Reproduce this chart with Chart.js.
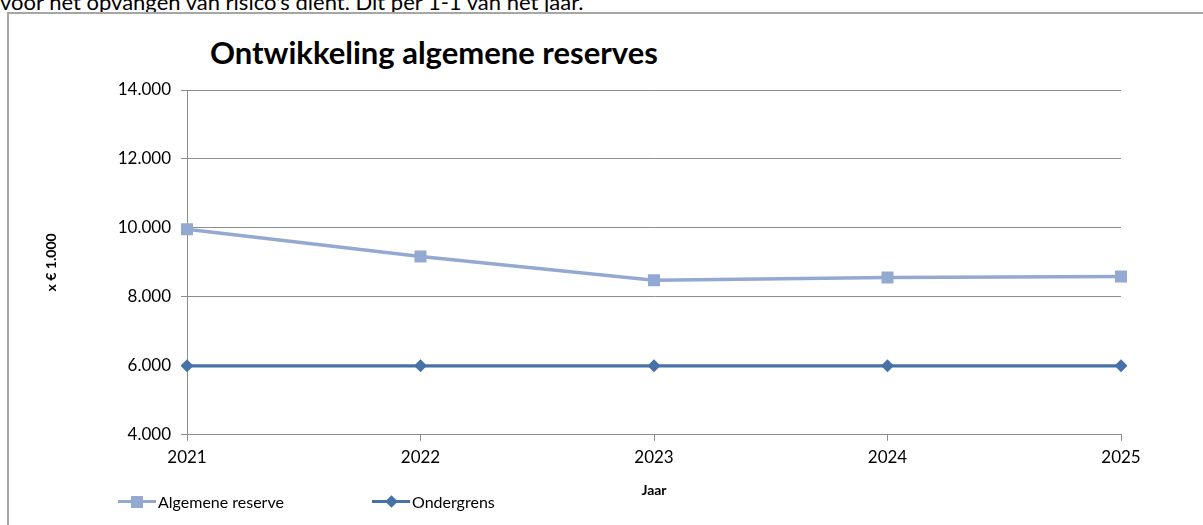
<!DOCTYPE html>
<html>
<head>
<meta charset="utf-8">
<script src="https://cdn.jsdelivr.net/npm/chart.js@4.4.1/dist/chart.umd.min.js"></script>
<style>
  html, body { margin: 0; padding: 0; background: #fff; overflow: hidden; }
  body { width: 1203px; height: 525px; position: relative; font-family: Lato, sans-serif; color: #000; }
  .doc-line { position: absolute; left: 0; top: -12px; font-size: 22px; white-space: nowrap; }
  .frame { position: absolute; left: 7px; top: 12px; width: 1230px; height: 560px; border: 2px solid #a6a6a6; }
  .title { position: absolute; left: 210px; top: 34px; font-size: 31px; font-weight: bold; line-height: 36px; white-space: nowrap; }
  .wrap { position: absolute; left: 9px; top: 15px; width: 1194px; height: 510px; }
  .legend { position: absolute; top: 492px; left: 0; height: 20px; font-size: 16px; }
  .legend-item { position: absolute; top: 0; height: 20px; line-height: 20px; white-space: nowrap; }
  .legend-item .swatch { position: absolute; left: 0; top: 8px; width: 38px; height: 3px; }
  .legend-item .marker { position: absolute; }
  .legend-item .label { position: absolute; left: 40px; top: 0; }
</style>
</head>
<body>
<div class="doc-line">voor het opvangen van risico's dient. Dit per 1-1 van het jaar.</div>
<div class="frame"></div>
<div class="title">Ontwikkeling algemene reserves</div>
<div class="wrap"><canvas id="reserves"></canvas></div>
<div class="legend" id="legend"></div>

<script>
    'use strict';

    var years = ['2021', '2022', '2023', '2024', '2025'];
    var reserveValues = [9960, 9170, 8480, 8560, 8590];
    var ondergrensValues = [6000, 6000, 6000, 6000, 6000];
    var yMin = 4000;
    var yMax = 14000;
    var yStep = 2000;

    var reserveColor = '#93A9D1';
    var ondergrensColor = '#4771A9';
    var gridColor = '#8c8c8c';

    Chart.defaults.font.family = 'Lato';
    Chart.defaults.color = '#000';

    function dutchNumber(v) {
        return String(v).replace(/\B(?=(\d{3})+(?!\d))/g, '.');
    }

    var chart = new Chart(document.getElementById('reserves'), {
        type: 'line',
        data: {
            labels: years,
            datasets: [
                {
                    label: 'Algemene reserve',
                    data: reserveValues,
                    borderColor: reserveColor,
                    backgroundColor: reserveColor,
                    borderWidth: 3.5,
                    pointStyle: 'rect',
                    pointRadius: 8.5,
                    pointBorderWidth: 0,
                    tension: 0
                },
                {
                    label: 'Ondergrens',
                    data: ondergrensValues,
                    borderColor: ondergrensColor,
                    backgroundColor: ondergrensColor,
                    borderWidth: 3.2,
                    pointStyle: 'rectRot',
                    pointRadius: 6.5,
                    pointBorderWidth: 0,
                    tension: 0
                }
            ]
        },
        options: {
            responsive: true,
            maintainAspectRatio: false,
            animation: false,
            layout: {padding: {left: 30, top: 75, right: 82, bottom: 22}},
            plugins: {
                legend: {display: false},
                title: {display: false},
                tooltip: {enabled: false}
            },
            scales: {
                x: {
                    type: 'category',
                    offset: false,
                    grid: {drawOnChartArea: false, drawTicks: true, tickLength: 6, color: gridColor},
                    border: {color: gridColor, width: 1},
                    ticks: {padding: 7, maxRotation: 0, font: {size: 17}},
                    title: {
                        display: true,
                        text: 'Jaar',
                        font: {size: 14, weight: 'bold'},
                        padding: {top: 7, bottom: 4}
                    }
                },
                y: {
                    min: yMin,
                    max: yMax,
                    grid: {color: gridColor, tickLength: 6},
                    border: {color: gridColor, width: 1},
                    ticks: {
                        stepSize: yStep,
                        padding: 10,
                        font: {size: 17},
                        callback: function (v) { return dutchNumber(v); }
                    },
                    title: {
                        display: true,
                        text: 'x € 1.000',
                        font: {size: 14, weight: 'bold'}
                    },
                    afterFit: function (scale) { scale.width = 148; }
                }
            }
        }
    });

    // legend in Excel style: line with marker in the middle
    var legendLeft = [118, 372];
    var legend = document.getElementById('legend');
    chart.data.datasets.forEach(function (ds, i) {
        var item = document.createElement('div');
        item.className = 'legend-item';
        item.style.left = legendLeft[i] + 'px';

        var swatch = document.createElement('div');
        swatch.className = 'swatch';
        swatch.style.background = ds.borderColor;
        item.appendChild(swatch);

        var marker = document.createElement('div');
        marker.className = 'marker';
        marker.style.background = ds.backgroundColor;
        if (ds.pointStyle === 'rect') {
            marker.style.width = '12px';
            marker.style.height = '12px';
            marker.style.left = '13px';
            marker.style.top = '3.5px';
        } else {
            marker.style.width = '9px';
            marker.style.height = '9px';
            marker.style.left = '14.5px';
            marker.style.top = '5px';
            marker.style.transform = 'rotate(45deg)';
        }
        item.appendChild(marker);

        var label = document.createElement('div');
        label.className = 'label';
        label.textContent = ds.label;
        item.appendChild(label);

        legend.appendChild(item);
    });
</script>
</body>
</html>
